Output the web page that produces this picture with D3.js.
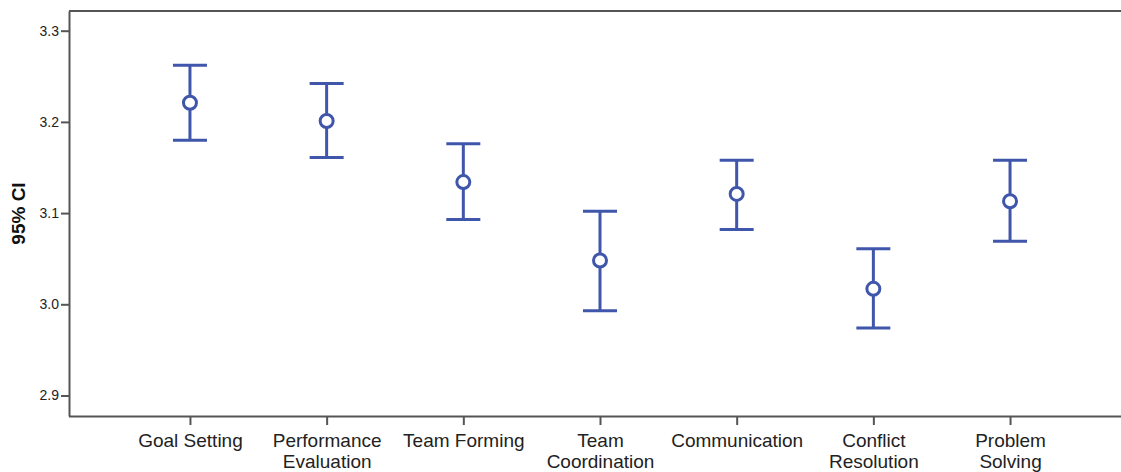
<!DOCTYPE html>
<html>
<head>
<meta charset="utf-8">
<script src="https://cdn.jsdelivr.net/npm/d3@7"></script>
<style>
  html, body { margin: 0; padding: 0; background: #fff; }
  svg { display: block; }
  .axis text { font-family: "Liberation Sans", Arial, sans-serif; fill: #222; }
</style>
</head>
<body>
<svg id="chart" width="1121" height="472"></svg>
<script>
// Category labels (line breaks as "\n")
const categories = [
  "Goal Setting",
  "Performance\nEvaluation",
  "Team Forming",
  "Team\nCoordination",
  "Communication",
  "Conflict\nResolution",
  "Problem\nSolving"
];
// Mean and 95% confidence interval bounds per category
const means = [3.221, 3.201, 3.134, 3.048, 3.121, 3.017, 3.113];
const lower = [3.180, 3.161, 3.093, 2.993, 3.082, 2.974, 3.069];
const upper = [3.262, 3.242, 3.176, 3.102, 3.158, 3.061, 3.158];
const yTicks = [2.9, 3.0, 3.1, 3.2, 3.3];

const rows = categories.map((c, i) => ({ c, m: means[i], lo: lower[i], hi: upper[i] }));

const svg = d3.select("#chart");
const W = 1121, H = 472;
const plotLeft = 69, plotTop = 11, plotBottom = 416;

const x = d3.scalePoint().domain(categories).range([plotLeft, 1131]).padding(0.885);
const y = d3.scaleLinear().domain([2.8775, 3.3216]).range([plotBottom, plotTop]);

const axisColor = "#555";
const blue = "#3f56ab";

// Top frame line
svg.append("line")
  .attr("x1", plotLeft).attr("x2", W)
  .attr("y1", y.range()[1]).attr("y2", y.range()[1])
  .attr("stroke", axisColor).attr("stroke-width", 2);

// Y axis
const gy = svg.append("g").attr("class", "axis")
  .attr("transform", `translate(${plotLeft},0)`)
  .call(d3.axisLeft(y).tickValues(yTicks).tickFormat(d3.format(".1f"))
    .tickSize(8).tickSizeOuter(0).tickPadding(2));
gy.select(".domain").attr("stroke", axisColor).attr("stroke-width", 2);
gy.selectAll(".tick line").attr("stroke", axisColor).attr("stroke-width", 2);
gy.selectAll(".tick text").attr("font-size", 14);

// X axis
const gx = svg.append("g").attr("class", "axis")
  .attr("transform", `translate(0,${plotBottom})`)
  .call(d3.axisBottom(x).tickSize(9).tickSizeOuter(0).tickFormat(""));
gx.select(".domain").attr("d", `M${plotLeft},0.5H${W}`).attr("stroke", axisColor).attr("stroke-width", 2);
gx.selectAll(".tick line").attr("stroke", axisColor).attr("stroke-width", 2);
gx.selectAll(".tick").each(function(d) {
  const t = d3.select(this).append("text")
    .attr("text-anchor", "middle")
    .attr("font-size", 19)
    .attr("fill", "#222")
    .attr("y", 31);
  d.split("\n").forEach((line, i) => {
    t.append("tspan").attr("x", 0).attr("dy", i === 0 ? 0 : 21).text(line);
  });
});

// Y axis title
svg.append("text")
  .attr("transform", `translate(25,${(plotTop + plotBottom) / 2}) rotate(-90)`)
  .attr("text-anchor", "middle")
  .attr("font-family", "Liberation Sans, Arial, sans-serif")
  .attr("font-weight", "bold")
  .attr("font-size", 19)
  .attr("fill", "#111")
  .text("95% CI");

// Error bars
const capHalf = 17;
const g = svg.append("g").attr("stroke", blue).attr("stroke-width", 3).attr("fill", "none");
const bars = g.selectAll("g.bar").data(rows).join("g").attr("class", "bar")
  .attr("transform", d => `translate(${x(d.c)},0)`);
bars.append("line").attr("x1", 0).attr("x2", 0)
  .attr("y1", d => y(d.hi)).attr("y2", d => y(d.lo));
bars.append("line").attr("x1", -capHalf).attr("x2", capHalf)
  .attr("y1", d => y(d.hi)).attr("y2", d => y(d.hi));
bars.append("line").attr("x1", -capHalf).attr("x2", capHalf)
  .attr("y1", d => y(d.lo)).attr("y2", d => y(d.lo));
bars.append("circle").attr("cx", 0).attr("cy", d => y(d.m)).attr("r", 6.5)
  .attr("fill", "#fff");
</script>
</body>
</html>
